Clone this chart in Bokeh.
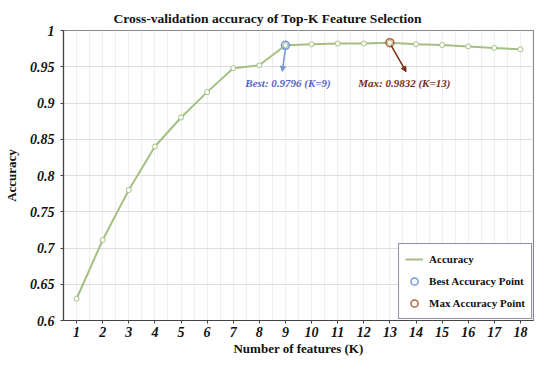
from bokeh.plotting import figure
from bokeh.models import (ColumnDataSource, FixedTicker, Arrow, NormalHead, Label,
                          Legend, LegendItem, Range1d)
from bokeh.embed import file_html
from bokeh.resources import INLINE

# ---- data ----
k_values = list(range(1, 19))
accuracy = [0.630, 0.711, 0.780, 0.840, 0.880, 0.915, 0.948, 0.952, 0.9796,
            0.981, 0.982, 0.982, 0.9832, 0.981, 0.980, 0.978, 0.976, 0.974]
best_k = 9
best_acc = 0.9796
max_k = 13
max_acc = 0.9832
y_tick_values = [0.6, 0.65, 0.7, 0.75, 0.8, 0.85, 0.9, 0.95, 1.0]
y_tick_labels = ["0.6", "0.65", "0.7", "0.75", "0.8", "0.85", "0.9", "0.95", "1"]
title_text = "Cross-validation accuracy of Top-K Feature Selection"

SERIF = "Liberation Serif"
GREEN = "#a3bf84"
BLUE = "#7396d8"
BROWN = "#b0603e"
BLUE_TXT = "#5566c8"
BROWN_TXT = "#7a2e12"

p = figure(width=534, height=358, output_backend="svg", toolbar_location=None,
           x_range=Range1d(0.5, 18.5), y_range=Range1d(0.6, 1.0),
           min_border_left=50, min_border_right=1, min_border_top=30,
           min_border_bottom=20)

p.title.text = title_text
p.title.align = "left"
p.title.offset = 50
p.title.vertical_align = "top"
p.title.text_font = SERIF
p.title.text_font_size = "13.5px"
p.title.text_font_style = "bold"
p.title.text_color = "#111111"
p.title.standoff = 6

src = ColumnDataSource(dict(k=k_values, acc=accuracy))
line_r = p.line("k", "acc", source=src, line_color=GREEN, line_width=2)
p.scatter("k", "acc", source=src, size=5, fill_color="white", line_color=GREEN, line_width=1)

best_src = ColumnDataSource(dict(k=[best_k], acc=[best_acc]))
max_src = ColumnDataSource(dict(k=[max_k], acc=[max_acc]))
best_r = p.scatter("k", "acc", source=best_src, size=8, fill_color=None,
                   line_color=BLUE, line_width=1.5)
max_r = p.scatter("k", "acc", source=max_src, size=8, fill_color=None,
                  line_color=BROWN, line_width=1.5)

# arrows + annotation labels
p.add_layout(Arrow(end=NormalHead(size=5, fill_color=BLUE, line_color=BLUE),
                   x_start=best_k, y_start=best_acc - 0.004,
                   x_end=best_k - 0.12, y_end=best_acc - 0.036,
                   line_color=BLUE, line_width=1.5))
p.add_layout(Arrow(end=NormalHead(size=5, fill_color=BROWN_TXT, line_color=BROWN_TXT),
                   x_start=max_k + 0.05, y_start=max_acc - 0.004,
                   x_end=max_k + 0.62, y_end=max_acc - 0.040,
                   line_color=BROWN_TXT, line_width=1.5))
p.add_layout(Label(x=best_k + 0.1, y=0.928, text="Best: %.4f (K=%d)" % (best_acc, best_k),
                   text_align="center", text_baseline="middle", text_font=SERIF,
                   text_font_style="bold italic", text_font_size="11px",
                   text_color=BLUE_TXT))
p.add_layout(Label(x=max_k + 0.55, y=0.928, text="Max: %.4f (K=%d)" % (max_acc, max_k),
                   text_align="center", text_baseline="middle", text_font=SERIF,
                   text_font_style="bold italic", text_font_size="11px",
                   text_color=BROWN_TXT))

# axes
p.xaxis.ticker = FixedTicker(ticks=k_values)
p.yaxis.ticker = FixedTicker(ticks=y_tick_values)
p.yaxis.major_label_overrides = {v: s for v, s in zip(y_tick_values, y_tick_labels)}
for ax in (p.xaxis, p.yaxis):
    ax.major_label_text_font = SERIF
    ax.major_label_text_font_style = "bold italic"
    ax.major_label_text_font_size = "14px"
    ax.major_label_text_color = "#111111"
    ax.axis_label_text_font = SERIF
    ax.axis_label_text_font_style = "bold"
    ax.axis_label_text_font_size = "13px"
    ax.axis_label_text_color = "#111111"
    ax.axis_line_color = "#444444"
    ax.axis_line_width = 1.2
    ax.major_tick_line_color = "#444444"
    ax.major_tick_in = 0
    ax.major_tick_out = 3
    ax.minor_tick_line_color = None
p.xaxis.axis_label = "Number of features (K)"
p.yaxis.axis_label = "Accuracy"
p.xaxis.major_label_standoff = 3
p.xaxis.axis_label_standoff = 1
p.yaxis.major_label_standoff = 6
p.yaxis.axis_label_standoff = 8

# grid
p.xgrid.ticker = FixedTicker(ticks=[0.5 + 0.5 * i for i in range(37)])
p.xgrid.grid_line_color = "#eeeeee"
p.ygrid.ticker = FixedTicker(ticks=y_tick_values)
p.ygrid.grid_line_color = "#dddddd"

p.outline_line_color = "#888888"
p.outline_line_width = 1.2

legend = Legend(items=[
    LegendItem(label="Accuracy", renderers=[line_r]),
    LegendItem(label="Best Accuracy Point", renderers=[best_r]),
    LegendItem(label="Max Accuracy Point", renderers=[max_r]),
], location="bottom_right")
legend.label_text_font = SERIF
legend.label_text_font_style = "bold"
legend.label_text_font_size = "11px"
legend.label_text_color = "#111111"
legend.border_line_color = "#1c2450"
legend.border_line_width = 1.5
legend.background_fill_color = "white"
legend.background_fill_alpha = 1
legend.margin = 1
legend.padding = 6
legend.spacing = 4
legend.glyph_width = 18
legend.glyph_height = 18
legend.label_height = 18
legend.label_standoff = 6
p.add_layout(legend)

open("out.html", "w").write(file_html(p, INLINE))
